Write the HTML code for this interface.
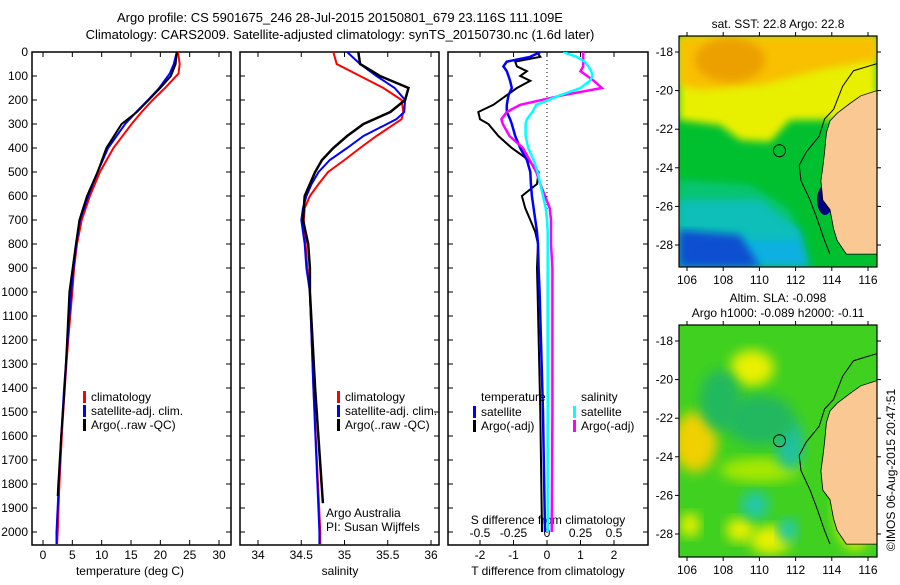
<!DOCTYPE html>
<html><head><meta charset="utf-8"><style>
body{margin:0;background:#fff;width:900px;height:580px;overflow:hidden}
svg{font-family:"Liberation Sans",sans-serif;font-size:12px}
</style></head><body>
<svg id="fig" width="900" height="580" xmlns="http://www.w3.org/2000/svg">
<defs>
<filter id="blur" x="-20%" y="-20%" width="140%" height="140%"><feGaussianBlur stdDeviation="6"/></filter>
<filter id="blur2"><feGaussianBlur stdDeviation="4"/></filter>
<clipPath id="c1"><rect x="679" y="36" width="198" height="231"/></clipPath>
<clipPath id="c2"><rect x="679" y="325" width="198" height="232"/></clipPath>
<clipPath id="cp1"><rect x="32" y="52" width="199" height="493"/></clipPath>
<clipPath id="cp2"><rect x="240" y="52" width="199" height="493"/></clipPath>
<clipPath id="cp3"><rect x="448" y="52" width="200" height="493"/></clipPath>
</defs>
<text x="340" y="22" text-anchor="middle" font-size="13">Argo profile: CS 5901675_246 28-Jul-2015 20150801_679 23.116S 111.109E</text>
<text x="340" y="39" text-anchor="middle" font-size="13">Climatology: CARS2009. Satellite-adjusted climatology: synTS_20150730.nc (1.6d later)</text>
<g id="plots"></g>
<g id="maps"></g>
</svg>
<script>
// depth axis
const depthTicks=[0,100,200,300,400,500,600,700,800,900,1000,1100,1200,1300,1400,1500,1600,1700,1800,1900,2000];
const tempTicks=[0,5,10,15,20,25,30];
const salTicks=[34,34.5,35,35.5,36];
const tdiffTicks=[-2,-1,0,1,2];
const sdiffTicks=[-0.5,-0.25,0,0.25,0.5];
const sdiffLabels=["-0.5","-0.25","0","0.25","0.5"];
// temperature profiles
const tDepth=[0,50,90,150,200,250,300,400,500,600,700,800,900,1000,1200,1400,1600,1800,2000,2050];
const tClim=[23,23.3,23.1,20.8,18.7,16.8,15.1,12.0,9.7,8.0,6.6,5.8,5.3,5.0,4.3,3.7,3.2,2.8,2.5,2.4];
const tSat=[22.8,22.3,21.6,19.8,17.9,15.9,14.0,11.1,9.3,7.7,6.3,5.7,5.2,4.8,4.2,3.6,3.1,2.7,2.3,2.3];
const tArgoDepth=[0,50,100,150,200,250,300,400,500,600,700,800,1000,1200,1400,1600,1800,1850];
const tArgo=[22.8,22.6,21.8,20.0,18.0,16.0,13.4,10.8,9.3,7.5,6.2,5.6,4.5,4.1,3.7,3.1,2.6,2.5];
// salinity profiles
const sDepth=[0,50,100,150,200,250,280,350,400,450,500,550,600,650,700,800,900,1000,1400,2000,2050];
const sClim=[34.87,34.91,35.18,35.45,35.66,35.68,35.66,35.37,35.18,35.0,34.81,34.7,34.6,34.54,34.53,34.55,34.57,34.6,34.64,34.72,34.72];
const sSat=[35.03,35.18,35.37,35.58,35.7,35.69,35.6,35.22,35.03,34.83,34.7,34.62,34.56,34.52,34.5,34.54,34.56,34.6,34.64,34.71,34.71];
const sArgoDepth=[0,50,100,150,200,250,300,350,400,450,500,600,700,800,900,1000,1400,1880];
const sArgo=[35.16,35.18,35.41,35.74,35.7,35.53,35.22,35.03,34.87,34.74,34.66,34.54,34.52,34.58,34.6,34.6,34.66,34.75];
// differences
const dDepth=[0,20,40,60,80,100,120,150,180,220,250,280,300,350,400,450,500,550,600,650,700,750,800,900,1000,1500,2000];
const dTsat=[-0.2,-0.5,-1.2,-1.3,-1.2,-1.15,-1.1,-1.05,-1.15,-1.2,-1.2,-1.1,-1.05,-0.95,-0.8,-0.6,-0.5,-0.48,-0.45,-0.4,-0.35,-0.3,-0.27,-0.25,-0.22,-0.12,-0.06];
const dTargo=[-0.3,-0.2,-0.95,-0.9,-0.6,-0.8,-0.5,-0.9,-1.2,-1.6,-2.05,-2.0,-1.75,-1.45,-1.05,-0.55,-0.25,-0.3,-0.75,-0.65,-0.5,-0.35,-0.27,-0.3,-0.28,-0.2,-0.15];
const dSsat=[0.12,0.22,0.28,0.31,0.33,0.34,0.32,0.25,0.1,-0.08,-0.11,-0.15,-0.16,-0.16,-0.14,-0.1,-0.07,-0.05,-0.03,-0.01,0,0.005,0.005,0.005,0.005,0.005,0.005];
const dSargo=[0.27,0.27,0.27,0.27,0.25,0.3,0.35,0.41,0.12,-0.2,-0.3,-0.34,-0.33,-0.28,-0.18,-0.13,-0.08,-0.05,-0.015,0.02,0.03,0.03,0.03,0.04,0.04,0.04,0.035];

const NS="http://www.w3.org/2000/svg";
const G=document.getElementById('plots');
function el(tag,attrs,parent,txt){const e=document.createElementNS(NS,tag);for(const k in attrs)e.setAttribute(k,attrs[k]);if(txt!==undefined)e.textContent=txt;(parent||G).appendChild(e);return e;}
const Y=d=>52+d*0.24;
const xT=v=>43+v*5.867;
const xS=v=>258+(v-34)*86.5;
const xDT=v=>547+v*33.5;
const xDS=v=>547+v*134;

function frame(x,w,name){
  const r=el('rect',{x:x,y:52,width:w,height:493,fill:'none',stroke:'#000','stroke-width':1.5});
  
  
}
function line(xs,ds,xf,color,name,clip,w){
  const p=el('polyline',{points:xs.map((v,i)=>xf(v).toFixed(1)+','+Y(ds[i]).toFixed(1)).join(' '),fill:'none',stroke:color,'stroke-width':w||2,'clip-path':'url(#'+clip+')'});
  
  
}
frame(32,199,'temperature-panel');frame(240,199,'salinity-panel');frame(448,200,'difference-panel');
// depth ticks
depthTicks.forEach(d=>{
  const t=el('text',{x:28,y:Y(d)+4,'text-anchor':'end'},G,String(d));
  
  
  [[32,1],[231,-1],[240,1],[439,-1],[448,1],[648,-1]].forEach(([x,s])=>el('line',{x1:x,x2:x+5*s,y1:Y(d),y2:Y(d),stroke:'#000'}));
});
function xticks(vals,labels,xf,yl,name){
  vals.forEach((v,i)=>{
    el('line',{x1:xf(v),x2:xf(v),y1:545,y2:540,stroke:'#000'});
    el('line',{x1:xf(v),x2:xf(v),y1:52,y2:57,stroke:'#000'});
    const t=el('text',{x:xf(v),y:yl,'text-anchor':'middle'},G,labels[i]);
    
    
  });
}
xticks(tempTicks,tempTicks.map(String),xT,559,'temperature-tick-label');
xticks(salTicks,salTicks.map(String),xS,559,'salinity-tick-label');
xticks(tdiffTicks,tdiffTicks.map(String),xDT,559,'t-diff-tick-label');
sdiffTicks.forEach((v,i)=>{
  const t=el('text',{x:xDS(v),y:537,'text-anchor':'middle'},G,sdiffLabels[i]);
  
  
});
[['temperature (deg C)',130,'temperature-axis-title'],['salinity',340,'salinity-axis-title'],['T difference from climatology',548,'t-diff-axis-title']].forEach(([s,x,n])=>{
  const t=el('text',{x:x,y:575,'text-anchor':'middle'},G,s);
  
  
});
const st=el('text',{x:548,y:524,'text-anchor':'middle'},G,'S difference from climatology');


// dotted zero line
const z=el('line',{x1:547,x2:547,y1:52,y2:545,stroke:'#000','stroke-dasharray':'1,3'});



line(tClim,tDepth,xT,'#f00','temp-climatology-line','cp1');
line(tSat,tDepth,xT,'#00f','temp-satellite-line','cp1');
line(tArgo,tArgoDepth,xT,'#000','temp-argo-line','cp1');
line(sClim,sDepth,xS,'#f00','sal-climatology-line','cp2');
line(sSat,sDepth,xS,'#00f','sal-satellite-line','cp2');
line(sArgo,sArgoDepth,xS,'#000','sal-argo-line','cp2',2.5);
line(dTargo,dDepth,xDT,'#000','tdiff-argo-line','cp3');
line(dTsat,dDepth,xDT,'#00f','tdiff-satellite-line','cp3',2.5);
line(dSargo,dDepth,xDS,'#f0f','sdiff-argo-line','cp3',2.5);
line(dSsat,dDepth,xDS,'#0ff','sdiff-satellite-line','cp3',2.5);

function legend(x,y,color,label,name){
  const g=el('g',{});
  
  
  el('rect',{x:x,y:y-10,width:3,height:12,fill:color},g);
  el('text',{x:x+8,y:y},g,label);
}
[[83,401,'#f00','climatology'],[83,415,'#00f','satellite-adj. clim.'],[83,429,'#000','Argo(..raw -QC)']].forEach(a=>legend(a[0],a[1],a[2],a[3],'temp-legend-entry'));
[[337,401,'#f00','climatology'],[337,415,'#00f','satellite-adj. clim.'],[337,429,'#000','Argo(..raw -QC)']].forEach(a=>legend(a[0],a[1],a[2],a[3],'sal-legend-entry'));
[[473,416,'#00f','satellite'],[473,430,'#000','Argo(-adj)'],[573,416,'#0ff','satellite'],[573,430,'#f0f','Argo(-adj)']].forEach(a=>legend(a[0],a[1],a[2],a[3],'diff-legend-entry'));
el('text',{x:481,y:401},G,'temperature');
el('text',{x:581,y:401},G,'salinity');
const cr=el('text',{x:326,y:517},G,'Argo Australia');


el('text',{x:326,y:531},G,'PI: Susan Wijffels');

// maps
const M=document.getElementById('maps');
const lonX=l=>687+(l-106)*18.1;
const latY0=(l,top)=>top+(l-18)*19.3;
const coastLon=[116.6,116.6,115.6,115.0,114.3,113.9,113.7,113.6,113.5,113.4,113.5,113.9,114.1,114.3,114.8];
const coastLat=[17,20.8,21.1,21.5,22.0,22.4,23.0,24.0,24.8,25.5,26.5,27.0,28.0,28.6,29.3];
function land(top,g){
  const pts=coastLon.map((l,i)=>lonX(l).toFixed(1)+','+latY0(coastLat[i],top).toFixed(1));
  pts.push(lonX(117)+','+latY0(29.3,top),lonX(117)+','+latY0(17,top));
  const p=el('polygon',{points:pts.join(' '),fill:'#f9c893',stroke:'#000','stroke-width':0.8},g);
  
  
  const iso=[[116.6,19.4],[115.2,19.8],[114.6,20.6],[114.1,21.8],[113.6,22.3],[113.3,23.2],[112.6,24.0],[112.2,24.7],[112.3,25.5],[112.8,26.5],[113.2,27.5],[113.6,28.6],[113.9,29.3]];
  el('polyline',{points:iso.map(a=>lonX(a[0])+','+latY0(a[1],top)).join(' '),fill:'none',stroke:'#000','stroke-width':1},g);
}
function mapAxes(top,h,prefix){
  const r=el('rect',{x:679,y:top,width:198,height:h,fill:'none',stroke:'#000','stroke-width':1.2},M);
  
  
  const yt=top+16;
  [106,108,110,112,114,116].forEach(l=>{
    el('line',{x1:lonX(l),x2:lonX(l),y1:top,y2:top-4,stroke:'#000'},M);
    el('line',{x1:lonX(l),x2:lonX(l),y1:top+h,y2:top+h+4,stroke:'#000'},M);
    el('text',{x:lonX(l),y:top+h+17,'text-anchor':'middle'},M,String(l));
  });
  [18,20,22,24,26,28].forEach(l=>{
    const y=latY0(l,yt);
    el('line',{x1:679,x2:675,y1:y,y2:y,stroke:'#000'},M);
    el('line',{x1:877,x2:881,y1:y,y2:y,stroke:'#000'},M);
    el('text',{x:673,y:y+4,'text-anchor':'end'},M,'-'+l);
  });
}
// map 1 SST
const g1=el('g',{'clip-path':'url(#c1)'},M);


el('rect',{x:679,y:36,width:198,height:231,fill:'#00c030'},g1);
el('polygon',{points:'679,36 877,36 877,120 790,120 770,142 740,140 720,125 679,120',fill:'#e8f000',filter:'url(#blur2)'},g1);
el('polygon',{points:'679,36 877,36 877,60 820,70 760,85 700,90 679,85',fill:'#f8c000',filter:'url(#blur2)'},g1);
el('ellipse',{cx:730,cy:60,rx:35,ry:22,fill:'#eca000',filter:'url(#blur2)'},g1);
el('polygon',{points:'679,200 760,200 800,230 810,267 679,267',fill:'#10b0e0',filter:'url(#blur2)'},g1);
el('polygon',{points:'679,180 750,185 790,210 800,240 679,240',fill:'#10c8a0',opacity:0.6,filter:'url(#blur2)'},g1);
el('polygon',{points:'679,230 740,235 760,267 679,267',fill:'#1050d0',filter:'url(#blur2)'},g1);
el('ellipse',{cx:825,cy:200,rx:8,ry:15,fill:'#000080'},g1);
land(52-16,g1);
const c1=el('circle',{cx:lonX(111.109),cy:latY0(23.116,52),r:6,fill:'none',stroke:'#000'},M);


mapAxes(36,231,'sst');
el('text',{x:778,y:28,'text-anchor':'middle'},M,'sat. SST: 22.8 Argo: 22.8');
// map 2 SLA
const g2=el('g',{'clip-path':'url(#c2)'},M);


el('rect',{x:679,y:325,width:198,height:232,fill:'#40d020'},g2);
[[752,368,22,18,'#e8f000'],[695,442,22,30,'#f0d000'],[770,540,20,14,'#e8f000'],[740,530,14,12,'#e8f000'],[690,525,10,12,'#e8f000'],[760,470,40,12,'#a8e800'],[855,510,20,40,'#d8f000']].forEach(a=>el('ellipse',{cx:a[0],cy:a[1],rx:a[2],ry:a[3],fill:a[4],filter:'url(#blur)'},g2));
[[790,445,14,25,'#20c0a0'],[755,505,14,14,'#20c8a8'],[788,530,10,12,'#20c8a8'],[760,420,35,25,'#20b860'],[720,400,20,30,'#20b860']].forEach(a=>el('ellipse',{cx:a[0],cy:a[1],rx:a[2],ry:a[3],fill:a[4],filter:'url(#blur)'},g2));
land(342-16,g2);
el('circle',{cx:lonX(111.109),cy:latY0(23.116,342),r:6,fill:'none',stroke:'#000'},M);
mapAxes(325,232,'sla');
el('text',{x:778,y:302,'text-anchor':'middle'},M,'Altim. SLA: -0.098');
el('text',{x:778,y:317,'text-anchor':'middle'},M,'Argo h1000: -0.089 h2000: -0.11');
const im=el('text',{x:895,y:470,'text-anchor':'middle',transform:'rotate(-90 895 470)'},M,'©IMOS 06-Aug-2015 20:47:51');


</script>
</body></html>
